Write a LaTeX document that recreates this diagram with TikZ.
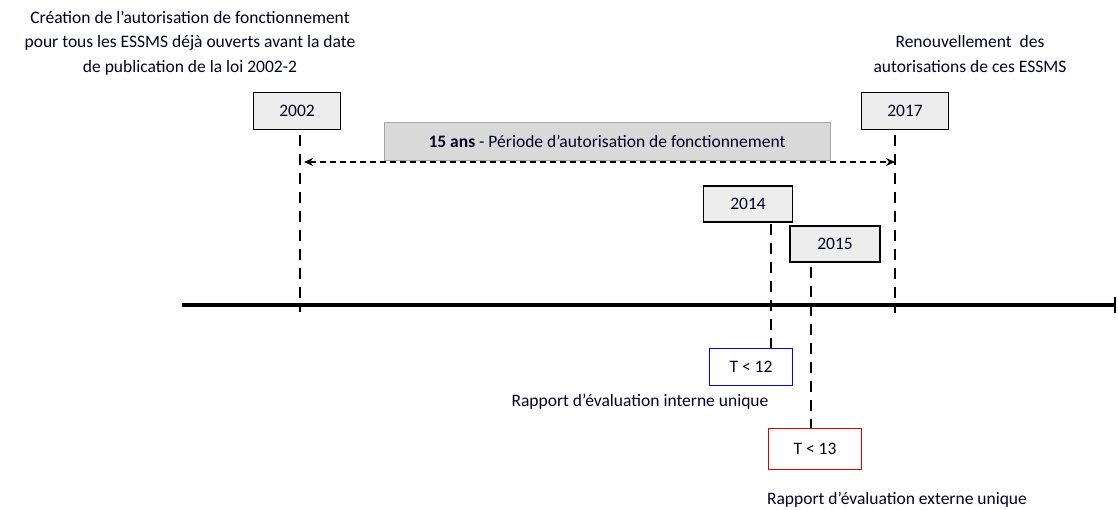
\documentclass[tikz,border=0pt]{standalone}
\usepackage{fontspec}
\setmainfont{Carlito}
\usetikzlibrary{arrows.meta,patterns}
\begin{document}
\begin{tikzpicture}[x=1pt,y=-1pt,
  every node/.style={font=\fontsize{17.5}{24.5}\selectfont, text=black!85!blue},
  yearbox/.style={draw=black, line width=1.2pt, fill=black!7, minimum width=87pt, minimum height=37pt, inner sep=0pt},
  tbox/.style={draw, line width=1.2pt, fill=white, inner sep=0pt},
  vdash/.style={line width=2.6pt, dash pattern=on 11pt off 8pt},
  lbl/.style={align=center, inner sep=0pt}]
\useasboundingbox (0,0) rectangle (1118,510);
% title texts
\node[lbl] (t1) at (190,43) {Création de l’autorisation de fonctionnement\\pour tous les ESSMS déjà ouverts avant la date\\de publication de la loi 2002-2};
\node[lbl] (t2) at (970,54) {Renouvellement~ des\\autorisations de ces ESSMS};
% period box
\node[draw=black!35, fill=black!15, line width=0.8pt, minimum width=446pt, minimum height=38pt, inner sep=0pt] (per) at (607,141) {\textbf{15 ans} - Période d’autorisation de fonctionnement};
% year boxes
\node[yearbox] (y2002) at (297,111) {2002};
\node[yearbox] (y2017) at (905,111) {2017};
\node[yearbox, minimum width=89pt, minimum height=36pt] (y2014) at (748,204) {2014};
\node[yearbox, minimum width=90pt, minimum height=36pt] (y2015) at (835,244) {2015};
% T boxes
\node[tbox, draw=blue, minimum width=83pt, minimum height=37pt] (t12) at (751,367) {T < 12};
\node[tbox, draw=red!90!black, minimum width=93pt, minimum height=41pt] (t13) at (815,449) {T < 13};
\node[lbl] (l12) at (640,402) {Rapport d’évaluation interne unique};
\node[lbl] (l13) at (897,500) {Rapport d’évaluation externe unique};
% axis
\coordinate (a0) at (182,305);
\coordinate (a1) at (1116,305);
\draw[line width=4.5pt, -{Bar[width=16pt,line width=2.5pt]}] (a0) -- (a1);
% vertical dashed lines
\coordinate (e2002) at (300,312);
\coordinate (e2017) at (895,313);
\draw[vdash] (300,135) -- (e2002);
\draw[vdash] (895,135) -- (e2017);
\draw[vdash] (771,224) -- (t12.north -| 771,0);
\draw[vdash] (811,267) -- (t13.north -| 811,0);
% double arrow
\coordinate (p0) at (304,162);
\coordinate (p1) at (895,162);
\draw[line width=1.8pt, dash pattern=on 6pt off 4pt, {Stealth[length=9pt,width=8pt]}-{Stealth[length=9pt,width=8pt]}] (p0) -- (p1);
\end{tikzpicture}
\end{document}
